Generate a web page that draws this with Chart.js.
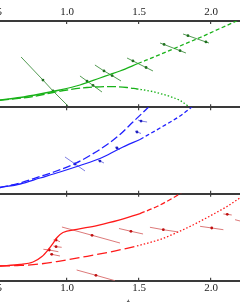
<!DOCTYPE html>
<html><head><meta charset="utf-8">
<script src="https://cdn.jsdelivr.net/npm/chart.js@4/dist/chart.umd.min.js"></script>
<style>
html,body{margin:0;padding:0;background:#fff;width:240px;height:302px;overflow:hidden;position:relative}
canvas{position:absolute;left:-40px}
</style></head><body>
<canvas id="c1" width="336" height="112" style="top:0px"></canvas>
<canvas id="c2" width="336" height="100" style="top:100px"></canvas>
<canvas id="c3" width="336" height="131" style="top:188px"></canvas>
<script>
// ---- axis ----
const xTicks = [0.5, 1.0, 1.5, 2.0];
const xTitle = 't';

// ---- top panel (green) ----
const gSolidX = [0.535,0.674,0.8125,0.951,1.090,1.229,1.299,1.368,1.493];
const gSolidY = [0.0846,0.1136,0.1541,0.2005,0.2584,0.3395,0.3801,0.4206,0.5075];
const gDashX = [1.493,1.646,1.785,1.924,2.0625,2.201,2.30];
const gDashY = [0.5075,0.6118,0.7103,0.8088,0.9131,1.0174,1.09];
const gLongX = [0.535,0.764,0.903,1.0,1.139,1.229,1.319,1.417,1.486];
const gLongY = [0.081,0.1251,0.1715,0.2005,0.2294,0.2375,0.2399,0.2294,0.2120];
const gDotX = [1.486,1.576,1.646,1.715,1.785,1.854];
const gDotY = [0.2120,0.1889,0.1599,0.1251,0.0788,0.0];
const gSegs = [
  [[0.681,0.583],[0.833,0.316],[0.903,0.189],[1.014,0.0035]],
  [[1.090,0.363],[1.139,0.304],[1.181,0.253],[1.243,0.177]],
  [[1.194,0.490],[1.257,0.421],[1.313,0.368],[1.375,0.305]],
  [[1.417,0.571],[1.458,0.537],[1.549,0.461],[1.597,0.421]],
  [[1.646,0.745],[1.674,0.728],[1.785,0.656],[1.826,0.629]],
  [[1.806,0.849],[1.840,0.830],[1.965,0.757],[1.986,0.745]]
];

// ---- middle panel (blue) ----
const bSolidX = [0.535,0.674,0.8125,0.951,1.090,1.229,1.368,1.507];
const bSolidY = [0.0718,0.1123,0.1817,0.2512,0.3264,0.4074,0.5231,0.6273];
const bDashX = [1.507,1.646,1.785,1.854,1.875];
const bDashY = [0.6273,0.7604,0.8993,0.9861,1.015];
const bLongX = [0.535,0.674,0.8125,0.917,1.056,1.160,1.299,1.368,1.458,1.556,1.576];
const bLongY = [0.0718,0.1238,0.1991,0.2569,0.3495,0.4421,0.5926,0.6852,0.8299,0.9861,1.0208];
const bSegs = [
  [[0.986,0.425],[1.056,0.344],[1.125,0.263]],
  [[1.215,0.390],[1.229,0.378],[1.257,0.355]],
  [[1.333,0.541],[1.347,0.529],[1.368,0.512]],
  [[1.472,0.726],[1.486,0.714],[1.514,0.697]],
  [[1.493,0.853],[1.514,0.841],[1.556,0.830]]
];

// ---- bottom panel (red) ----
const rSolidX = [0.535,0.674,0.764,0.826,0.868,0.903,0.931,0.972,1.069,1.208,1.354,1.507];
const rSolidY = [0.169,0.186,0.215,0.278,0.353,0.428,0.497,0.554,0.589,0.634,0.692,0.772];
const rDashX = [1.507,1.625,1.771,1.819];
const rDashY = [0.772,0.853,0.985,1.037];
const rLongX = [0.535,0.674,0.8125,0.951,1.111,1.299,1.486];
const rLongY = [0.169,0.175,0.192,0.226,0.272,0.330,0.399];
const rDotX = [1.486,1.646,1.764,1.889,1.993,2.111,2.201,2.271];
const rDotY = [0.399,0.474,0.554,0.652,0.744,0.853,0.951,1.020];
const rSegs = [
  [[0.965,0.617],[1.174,0.522],[1.368,0.433]],
  [[1.361,0.600],[1.444,0.568],[1.528,0.537]],
  [[1.576,0.614],[1.669,0.586],[1.773,0.560]],
  [[1.924,0.625],[2.005,0.606],[2.086,0.586]],
  [[2.086,0.767],[2.113,0.763],[2.144,0.755]],
  [[2.167,0.701],[2.236,0.672]],
  [[1.067,0.123],[1.201,0.062],[1.333,0.0]],
  [[0.836,0.361],[0.877,0.353],[0.940,0.333]],
  [[0.906,0.468],[0.924,0.468],[0.951,0.448]],
  [[0.906,0.399],[0.924,0.391],[0.963,0.384]],
  [[0.882,0.307],[0.894,0.303],[0.951,0.284]]
];

// ---- view range ----
const X_MIN = 1 + (-40 - 67) / 144;
const X_MAX = 1 + (296 - 67) / 144;

function curve(xs, ys, color, dash, w) {
  return {
    data: xs.map((x, i) => ({x: x, y: ys[i]})),
    borderColor: color, borderWidth: w || 1.3, borderDash: dash || [],
    pointRadius: 0, fill: false, cubicInterpolationMode: 'monotone'
  };
}
function seg(pts, color, dotColor) {
  const n = pts.length;
  return {
    data: pts.map(p => ({x: p[0], y: p[1]})),
    borderColor: color, borderWidth: 0.9, tension: 0, fill: false,
    pointRadius: c => (c.dataIndex > 0 && c.dataIndex < n - 1) ? 1.4 : 0,
    pointBackgroundColor: dotColor, pointBorderWidth: 0
  };
}
const FONT = {family: '"Liberation Serif", "DejaVu Serif", serif', size: 11};
// mode: 'labels' shows tick labels, 'none' gives a zero-height axis with inside ticks only
function xScale(pos, mode, pad, title) {
  const labels = mode === 'labels';
  return {
    type: 'linear', position: pos, min: X_MIN, max: X_MAX,
    afterBuildTicks: s => { s.ticks = xTicks.map(v => ({value: v})); },
    ticks: labels ? {display: true, padding: pad, color: '#222', font: FONT,
      autoSkip: false, maxRotation: 0, minRotation: 0,
      callback: v => Number(v).toFixed(1)}
      : {display: true, padding: 0, color: 'rgba(0,0,0,0)',
      font: {family: FONT.family, size: 11, lineHeight: '3px'},
      autoSkip: false, maxRotation: 0, minRotation: 0, callback: () => ''},
    grid: {display: true, drawOnChartArea: false, drawTicks: true, tickLength: -3,
      color: '#444', lineWidth: 1.2},
    border: {display: true, color: '#3a3a3a', width: 2},
    title: title ? {display: true, text: title, color: '#222',
      font: {family: FONT.family, size: 12, style: 'italic'},
      padding: {top: -2.5, bottom: 4}} : {display: false}
  };
}
function make(id, datasets, padding, topLabels, bottomLabels) {
  new Chart(document.getElementById(id), {
    type: 'line',
    data: {datasets: datasets},
    options: {
      responsive: false, animation: false, devicePixelRatio: 1,
      layout: {padding: padding},
      plugins: {legend: {display: false}, tooltip: {enabled: false}},
      scales: {
        x: xScale('bottom', bottomLabels ? 'labels' : 'none', 4, bottomLabels ? xTitle : null),
        x2: xScale('top', topLabels ? 'labels' : 'none', 4.9, null),
        y: {type: 'linear', display: false, min: 0, max: 1}
      }
    }
  });
}

const G = '#19b219', GS = '#3f8f3f', GD = '#1f6f1f';
const B = '#2020ff', BS = '#7070e0', BD = '#2020c0';
const R = '#ff1a1a', RS = '#d86a6a', RD = '#c01010';

make('c1', [
  curve(gSolidX, gSolidY, G, []),
  curve(gDashX, gDashY, G, [4, 2.5]),
  curve(gLongX, gLongY, G, [9, 3]),
  curve(gDotX, gDotY, G, [1.5, 2]),
  ...gSegs.map(s => seg(s, GS, GD))
], {top: 1, bottom: 4.7, left: 0, right: 0}, true, false);

make('c2', [
  curve(bSolidX, bSolidY, B, []),
  curve(bDashX, bDashY, B, [4, 2.5]),
  curve(bLongX, bLongY, B, [8, 3]),
  ...bSegs.map(s => seg(s, BS, BD))
], {top: 7.3, bottom: 6.3, left: 0, right: 0}, false, false);

make('c3', [
  curve(rSolidX, rSolidY, R, []),
  curve(rDashX, rDashY, R, [5, 2.5]),
  curve(rLongX, rLongY, R, [10, 4]),
  curve(rDotX, rDotY, R, [1.5, 2]),
  ...rSegs.map(s => seg(s, RS, RD))
], {top: 5.7, bottom: 4.2, left: 0, right: 0}, false, true);
</script>
</body></html>
